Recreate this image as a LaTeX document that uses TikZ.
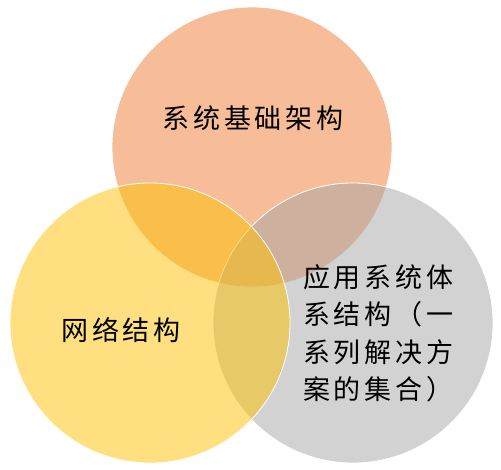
\documentclass[tikz,border=0pt]{standalone}
\usepackage{fontspec}
\newfontfamily\cjk[LetterSpace=14]{Noto Sans CJK SC}
\definecolor{orangeA}{HTML}{ED7B31}
\definecolor{goldA}{HTML}{FFC000}
\definecolor{grayA}{HTML}{A5A5A5}
\begin{document}
\begin{tikzpicture}[x=1pt,y=1pt,
  venn/.style={circle, minimum size=280pt, inner sep=0pt, fill opacity=0.5, draw=white, line width=0.8pt},
  lbl/.style={font=\cjk\fontsize{27}{37.5}\selectfont, text=black, inner sep=0pt}]
\useasboundingbox (0,0) rectangle (501,470);
\node[venn, fill=orangeA] (top) at (252,323) {};
\node[venn, fill=grayA] (right) at (353,147) {};
\node[venn, fill=goldA] (left) at (150,147) {};
\node[lbl] (ttop) at (253,352) {系统基础架构};
\node[lbl] (tleft) at (121,140) {网络结构};
\node[lbl, anchor=north west, align=left] (tright) at (303,206) {应用系统体\\系结构（一\\系列解决方\\案的集合）};
\end{tikzpicture}
\end{document}
